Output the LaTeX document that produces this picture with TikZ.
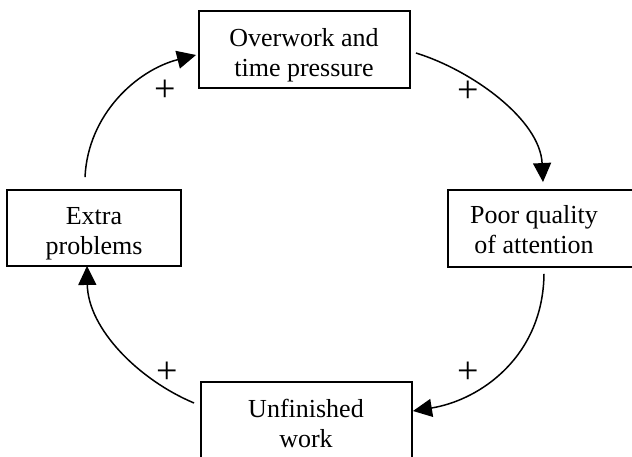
\documentclass[tikz,border=0pt]{standalone}
\usepackage{fontspec}
\setmainfont{Liberation Serif}
\usetikzlibrary{arrows.meta}
\begin{document}
\begin{tikzpicture}[x=1pt,y=-1pt,
  box/.style={draw,rectangle,line width=1.9pt,inner sep=0pt},
  lbl/.style={align=center,inner sep=0pt,font=\fontsize{26}{30}\selectfont},
  plus/.style={inner sep=0pt,font=\fontsize{38}{40}\selectfont},
  conn/.style={line width=1.5pt,-{Triangle[length=19pt,width=18pt]}}]
\useasboundingbox (0,0) rectangle (632,457);
\clip (0,0) rectangle (632,457);

% the four stages of the loop
\node[box,minimum width=211pt,minimum height=77pt] (tbox) at (304.5,49.5) {};
\node[box,minimum width=174pt,minimum height=76pt] (lbox) at (94,228) {};
\node[box,minimum width=207pt,minimum height=77pt] (rbox) at (551.5,228.5) {};
\node[box,minimum width=211pt,minimum height=77pt] (bbox) at (306.5,420.5) {};

\node[lbl] (ttxt) at (304,56) {\strut Overwork and\\\strut time pressure};
\node[lbl] (ltxt) at (94,233.5) {\strut Extra\\\strut problems};
\node[lbl] (rtxt) at (534,233) {\strut Poor quality\\\strut of attention};
\node[lbl] (btxt) at (306,426) {\strut Unfinished\\\strut work};

% reinforcing links
\draw[conn] ([shift={(-9,-12)}]lbox.north) .. controls +(3,-63) and +(-59,15) .. ([shift={(-2,5.5)}]tbox.west);
\draw[conn] ([shift={(5,3.5)}]tbox.east) .. controls +(55,17) and +(-3,-63) .. ([shift={(-8.5,-7)}]rbox.north);
\draw[conn] ([shift={(-7.5,6)}]rbox.south) .. controls +(-1,82) and +(68,-11) .. ([shift={(0,-9.5)}]bbox.east);
\draw[conn] ([shift={(-6,-17.5)}]bbox.west) .. controls +(-55,-23) and +(1,63) .. ([shift={(-7,-1)}]lbox.south);

% polarity signs
\node[plus] (p1) at (165,91) {+};
\node[plus] (p2) at (468,92) {+};
\node[plus] (p3) at (468,373) {+};
\node[plus] (p4) at (167,373) {+};
\end{tikzpicture}
\end{document}
